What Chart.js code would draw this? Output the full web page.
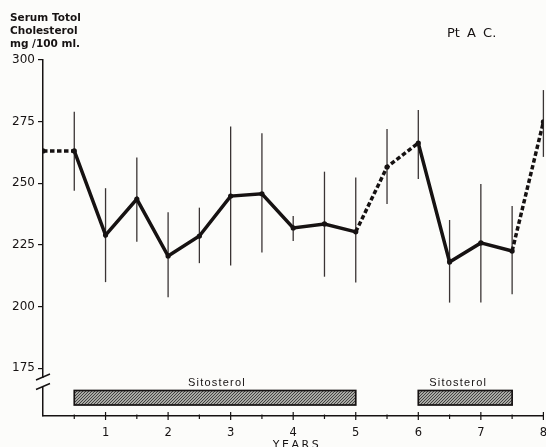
<!DOCTYPE html>
<html>
<head>
<meta charset="utf-8">
<script src="https://cdn.jsdelivr.net/npm/chart.js@4.4.1/dist/chart.umd.min.js"></script>
<style>
  html, body { margin: 0; padding: 0; background: #fcfcfa; }
  #wrap { position: relative; width: 546px; height: 447px; }
</style>
</head>
<body>
<div id="wrap"><canvas id="chart" width="546" height="447"></canvas></div>
<script>
// data
const years       = [0, 0.5, 1, 1.5, 2, 2.5, 3, 3.5, 4, 4.5, 5, 5.5, 6, 6.5, 7, 7.5, 8]
const cholesterol = [263.1, 263.1, 229.0, 243.6, 220.5, 228.6, 244.8, 245.7, 231.9, 233.5, 230.3, 256.6, 266.3, 218.1, 225.8, 222.5, 274.9]
const rangeHigh   = [null, 279.0, 248.0, 260.5, 238.2, 240.1, 273.0, 270.3, 236.7, 254.7, 252.3, 272.0, 279.7, 235.1, 249.7, 240.8, 287.8]
const rangeLow    = [null, 247.0, 209.9, 226.3, 203.8, 217.6, 216.6, 221.9, 226.6, 212.1, 209.7, 241.6, 251.7, 201.6, 201.6, 205.0, 260.7]
const dashedFrom  = [0, 10, 11, 15] // segments starting at these points are dashed

const yTicks = [175, 200, 225, 250, 275, 300]
const xTicks = [0.5, 1, 1.5, 2, 2.5, 3, 3.5, 4, 4.5, 5, 5.5, 6, 6.5, 7, 7.5, 8]

const sitosterolStart = [0.5, 6]
const sitosterolEnd   = [5, 7.5]
const sitosterolLabel = ["Sitosterol", "Sitosterol"]

const INK = "#161212"

// hatch fill for the treatment bars
function hatch() {
  const c = document.createElement("canvas")
  c.width = 3; c.height = 3
  const g = c.getContext("2d")
  g.fillStyle = "#a9a9a5"
  g.fillRect(0, 0, 3, 3)
  g.strokeStyle = "#383836"
  g.lineWidth = 0.9
  g.beginPath()
  g.moveTo(0, 3); g.lineTo(3, 0)
  g.moveTo(-1, 1); g.lineTo(1, -1)
  g.moveTo(2, 4); g.lineTo(4, 2)
  g.stroke()
  return g.createPattern(c, "repeat")
}

const errorBars = {
  id: "errorBars",
  beforeDatasetsDraw(chart) {
    const { ctx, scales: { x, y } } = chart
    ctx.save()
    ctx.strokeStyle = "#3a3434"
    ctx.lineWidth = 1.3
    years.forEach((yr, i) => {
      if (rangeHigh[i] == null) return
      const px = x.getPixelForValue(yr)
      ctx.beginPath()
      ctx.moveTo(px, y.getPixelForValue(rangeHigh[i]))
      ctx.lineTo(px, y.getPixelForValue(rangeLow[i]))
      ctx.stroke()
    })
    ctx.restore()
  }
}

const decorations = {
  id: "decorations",
  afterDraw(chart) {
    const { ctx, scales: { x, y }, chartArea } = chart
    ctx.save()

    // axis break on the y axis
    const ax = chartArea.left
    ctx.fillStyle = "#fcfcfa"
    ctx.fillRect(ax - 2, 378, 4, 9)
    ctx.strokeStyle = INK
    ctx.lineWidth = 1.4
    ctx.beginPath()
    ctx.moveTo(36, 380); ctx.lineTo(50, 374)
    ctx.moveTo(36, 389.5); ctx.lineTo(50, 383.5)
    ctx.stroke()

    // x tick marks crossing the axis
    const base = chartArea.bottom
    ctx.lineWidth = 1.2
    xTicks.forEach(v => {
      const px = x.getPixelForValue(v)
      const major = Number.isInteger(v)
      ctx.beginPath()
      ctx.moveTo(px, base - (major ? 4 : 1.5))
      ctx.lineTo(px, base + (major ? 4 : 3))
      ctx.stroke()
    })

    // sitosterol bars
    const pat = hatch()
    sitosterolStart.forEach((s, i) => {
      const x0 = x.getPixelForValue(s)
      const x1 = x.getPixelForValue(sitosterolEnd[i])
      ctx.fillStyle = pat
      ctx.fillRect(x0, 390.5, x1 - x0, 14.5)
      ctx.lineWidth = 1.7
      ctx.strokeStyle = INK
      ctx.strokeRect(x0, 390.5, x1 - x0, 14.5)
      ctx.fillStyle = INK
      ctx.font = "11px 'Liberation Sans'"
      ctx.letterSpacing = "1.2px"
      ctx.textAlign = "center"
      ctx.textBaseline = "middle"
      const cx = i === 0 ? (x0 + x1) / 2 + 2 : (x0 + x1) / 2 - 7
      ctx.fillText(sitosterolLabel[i], cx, 382.5)
    })

    // axis title at the bottom
    ctx.font = "11px 'DejaVu Sans'"
    ctx.letterSpacing = "2.5px"
    ctx.textAlign = "center"
    ctx.textBaseline = "top"
    ctx.fillStyle = INK
    ctx.fillText("YEARS", 297, 440)

    // y axis caption
    ctx.letterSpacing = "0px"
    ctx.textAlign = "left"
    ctx.textBaseline = "alphabetic"
    ctx.font = "bold 10.5px 'DejaVu Sans'"
    ctx.fillText("Serum Totol", 10, 21)
    ctx.fillText("Cholesterol", 10, 34)
    ctx.fillText("mg /100 ml.", 10, 47)

    // patient label
    ctx.font = "13px 'DejaVu Sans'"
    ctx.wordSpacing = "3px"
    ctx.fillText("Pt A C.", 447, 37)
    ctx.restore()
  }
}

new Chart(document.getElementById("chart"), {
  type: "line",
  data: {
    datasets: [{
      data: years.map((yr, i) => ({ x: yr, y: cholesterol[i] })),
      borderColor: INK,
      backgroundColor: INK,
      borderWidth: 3.5,
      pointRadius: 2.6,
      pointBorderWidth: 0,
      pointHoverRadius: 2.6,
      tension: 0,
      segment: {
        borderDash: ctx => dashedFrom.includes(ctx.p0DataIndex) ? [4.5, 2.5] : undefined
      }
    }]
  },
  options: {
    responsive: false,
    animation: false,
    devicePixelRatio: 1,
    layout: { padding: { top: 60, left: 0, right: 0, bottom: 0 } },
    plugins: {
      legend: { display: false },
      tooltip: { enabled: false },
      title: { display: false }
    },
    scales: {
      x: {
        type: "linear",
        min: 0,
        max: 8,
        afterBuildTicks: scale => { scale.ticks = xTicks.map(v => ({ value: v })) },
        afterFit: scale => {
          scale.height = 31
          scale.paddingLeft = 0
          scale.paddingRight = 0
        },
        grid: { display: false },
        border: { display: true, color: INK, width: 1.5 },
        ticks: {
          autoSkip: false,
          maxRotation: 0,
          padding: 2,
          color: INK,
          font: { family: "DejaVu Sans", size: 11.5 },
          callback: v => Number.isInteger(v) ? String(v) : ""
        }
      },
      y: {
        min: 155.6,
        max: 300,
        afterBuildTicks: scale => { scale.ticks = yTicks.map(v => ({ value: v })) },
        afterFit: scale => {
          scale.width = 43
          scale.paddingTop = 0
          scale.paddingBottom = 0
        },
        grid: {
          display: true,
          drawOnChartArea: false,
          drawTicks: true,
          tickLength: 5,
          color: INK,
          lineWidth: 1.2
        },
        border: { display: true, color: INK, width: 1.5 },
        ticks: {
          padding: 3,
          color: INK,
          font: { family: "DejaVu Sans", size: 12 }
        }
      }
    }
  },
  plugins: [errorBars, decorations]
})
</script>
</body>
</html>
